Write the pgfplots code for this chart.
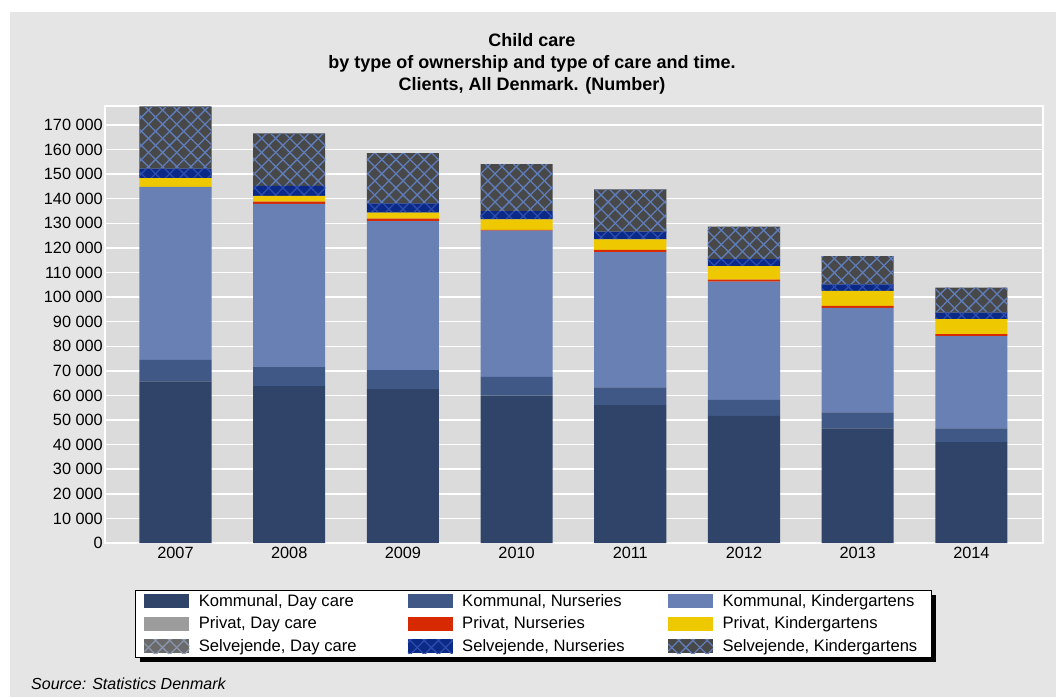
\documentclass[border=0pt]{standalone}
\usepackage{fontspec}
\setmainfont{Liberation Sans}
\usepackage{pgfplots}
\pgfplotsset{compat=1.18}
\usepackage{pgfplotstable}
\usetikzlibrary{patterns.meta}

\definecolor{bgouter}{HTML}{E5E5E5}
\definecolor{plotbg}{HTML}{DBDBDB}
\definecolor{kd}{HTML}{30446A}
\definecolor{kn}{HTML}{405886}
\definecolor{kk}{HTML}{6880B4}
\definecolor{pd}{HTML}{9C9C9C}
\definecolor{pn}{HTML}{D82A00}
\definecolor{pk}{HTML}{EEC800}
\definecolor{sdbg}{HTML}{6A6A6A}
\definecolor{sdline}{HTML}{8A96AE}
\definecolor{snbg}{HTML}{0B2A88}
\definecolor{snline}{HTML}{2C4CAE}
\definecolor{skbg}{HTML}{484848}
\definecolor{skline}{HTML}{5F7DBA}

\tikzset{
  hatch/.style n args={2}{fill=#1,
    postaction={pattern={Lines[angle=45,distance=10pt,line width=1.3pt]}, pattern color=#2},
    postaction={pattern={Lines[angle=-45,distance=10pt,line width=1.3pt]}, pattern color=#2}},
}
\pgfplotsset{
  leg/.style={legend image code/.code={\fill[##1] (0pt,-7pt) rectangle (45pt,7pt);}},
}

\pgfplotstableread{
x KD KN KK PD PN PK SD SN SK
0 65700 8800 70300 0 0 3600 0 3800 25300
1 63800 7700 66400 0 900 2400 0 4000 21400
2 62600 7700 60600 0 1000 2400 0 3800 20400
3 59900 7700 59400 0 300 4300 0 3400 19100
4 56100 7200 55000 0 900 4300 0 3100 17200
5 51700 6500 48100 0 800 5500 0 2800 13200
6 46600 6500 42500 0 800 6100 0 2700 11500
7 41000 5600 37500 0 800 6100 0 2700 10100
}\datatable

\newcommand{\legenta}[1]{\hspace{7.4pt}\makebox[207pt][l]{#1}}
\newcommand{\legentb}[1]{\hspace{7.4pt}\makebox[204pt][l]{#1}}
\newcommand{\legentc}[1]{\hspace{7.4pt}\makebox[198pt][l]{#1}}

\begin{document}
\begin{tikzpicture}
\useasboundingbox (0pt,0pt) rectangle (1056pt,697pt);
\fill[white] (0pt,0pt) rectangle (1056pt,697pt);
\fill[bgouter] (10pt,0pt) rectangle (1056pt,685pt);
\node[font=\fontsize{18}{22}\selectfont\bfseries, align=center] at (532pt,633pt)
  {Child care\\by type of ownership and type of care and time.\\Clients, All Denmark. (Number)};
\node[anchor=west, font=\fontsize{16}{19}\selectfont\itshape, inner sep=0pt] at (31pt,13pt) {Source: Statistics Denmark};
\fill[black] (140pt,35pt) rectangle (936pt,102pt);
\begin{axis}[
  at={(105pt,154pt)}, anchor=south west,
  scale only axis, width=938pt, height=437pt,
  xmin=-0.62, xmax=7.63, ymin=0, ymax=177700,
  ybar stacked, bar width=0.634,
  axis background/.style={fill=plotbg},
  axis line style={white, line width=1.5pt},
  ymajorgrids, grid style={white, line width=1.5pt},
  major tick length=0pt,
  xtick={0,...,7},
  xticklabels={2007,2008,2009,2010,2011,2012,2013,2014},
  ytick={0,10000,...,170000},
  scaled y ticks=false,
  /pgf/number format/fixed,
  /pgf/number format/1000 sep={\ },
  /pgf/number format/assume math mode=true,
  tick label style={font=\fontsize{16.3}{19}\selectfont},
  yticklabel style={inner sep=2pt},
  xticklabel style={inner sep=2pt, yshift=-2pt},
  legend columns=3,
  legend cell align=left,
  legend style={at={(0.032,-0.1076)}, anchor=north west, draw=black, line width=0.8pt,
    fill=white, font=\fontsize{16.6}{19}\selectfont, inner xsep=9pt, inner ysep=2pt,
    row sep=5pt},
]
\addplot[draw=none, fill=kd, leg] table[x=x,y=KD] {\datatable};
\addlegendentry{\legenta{Kommunal, Day care}}
\addplot[draw=none, fill=kn, leg] table[x=x,y=KN] {\datatable};
\addlegendentry{\legentb{Kommunal, Nurseries}}
\addplot[draw=none, fill=kk, leg] table[x=x,y=KK] {\datatable};
\addlegendentry{\legentc{Kommunal, Kindergartens}}
\addplot[draw=none, fill=pd, leg] table[x=x,y=PD] {\datatable};
\addlegendentry{\legenta{Privat, Day care}}
\addplot[draw=none, fill=pn, leg] table[x=x,y=PN] {\datatable};
\addlegendentry{\legentb{Privat, Nurseries}}
\addplot[draw=none, fill=pk, leg] table[x=x,y=PK] {\datatable};
\addlegendentry{\legentc{Privat, Kindergartens}}
\addplot[draw=none, hatch={sdbg}{sdline}, leg] table[x=x,y=SD] {\datatable};
\addlegendentry{\legenta{Selvejende, Day care}}
\addplot[draw=none, hatch={snbg}{snline}, leg] table[x=x,y=SN] {\datatable};
\addlegendentry{\legentb{Selvejende, Nurseries}}
\addplot[draw=none, hatch={skbg}{skline}, leg] table[x=x,y=SK] {\datatable};
\addlegendentry{\legentc{Selvejende, Kindergartens}}
\end{axis}
\end{tikzpicture}
\end{document}
